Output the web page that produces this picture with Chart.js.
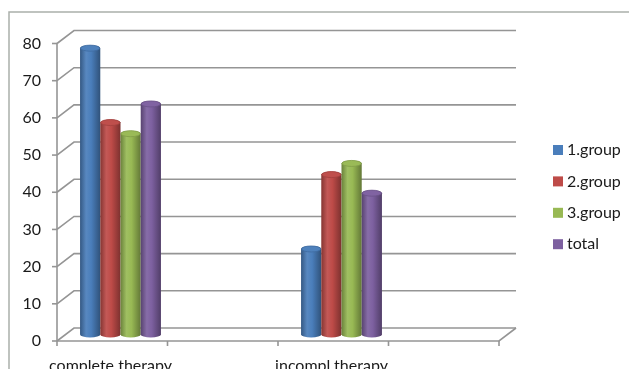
<!DOCTYPE html>
<html>
<head>
<meta charset="utf-8">
<script src="https://cdn.jsdelivr.net/npm/chart.js@4/dist/chart.umd.min.js"></script>
<style>
  html, body { margin: 0; padding: 0; background: #fff; }
  #wrap { width: 629px; height: 369px; position: relative; }
</style>
</head>
<body>
<div id="wrap"><canvas id="chart" width="629" height="369"></canvas></div>
<script>
// Data
const categories = ['complete therapy', 'incompl.therapy'];
const seriesNames = ['1.group', '2.group', '3.group', 'total'];
const group1 = [77, 23];
const group2 = [57, 43];
const group3 = [54, 46];
const total = [62, 38];
const yTicks = [0, 10, 20, 30, 40, 50, 60, 70, 80];

const colors = ['#4a7ebb', '#be4b48', '#98b954', '#7d60a0'];
const FONT = '16px Lato, "Open Sans", sans-serif';

// Box geometry (front/back planes around the bar plane)
const box = { frontLeft: 57, frontRight: 499, dx: 17, dy: 6.5 };
const gridColor = '#959595';

function mix(hex, amt) {
  const n = parseInt(hex.slice(1), 16);
  let r = n >> 16, g = (n >> 8) & 255, b = n & 255;
  const t = amt < 0 ? 0 : 255, p = Math.abs(amt);
  r = Math.round(r + (t - r) * p);
  g = Math.round(g + (t - g) * p);
  b = Math.round(b + (t - b) * p);
  return `rgb(${r},${g},${b})`;
}

function drawCylinder(ctx, x, top, base, w, color) {
  const rx = w / 2, ry = 3, left = x - rx;
  const grad = ctx.createLinearGradient(left, 0, left + w, 0);
  grad.addColorStop(0, mix(color, -0.3));
  grad.addColorStop(0.3, mix(color, 0.08));
  grad.addColorStop(0.55, color);
  grad.addColorStop(1, mix(color, -0.35));
  ctx.fillStyle = grad;
  ctx.beginPath();
  ctx.moveTo(left, top);
  ctx.lineTo(left, base);
  ctx.ellipse(x, base, rx, ry, 0, Math.PI, 0, true);
  ctx.lineTo(x + rx, top);
  ctx.ellipse(x, top, rx, ry, 0, 0, Math.PI, true);
  ctx.closePath();
  ctx.fill();

  // lid
  ctx.beginPath();
  ctx.ellipse(x, top, rx - 0.5, ry, 0, 0, Math.PI * 2);
  ctx.fillStyle = mix(color, 0.02);
  ctx.fill();
  ctx.strokeStyle = mix(color, -0.15);
  ctx.lineWidth = 0.8;
  ctx.stroke();
}

const boxPlugin = {
  id: 'box3d',
  beforeDatasetsDraw(chart) {
    const ctx = chart.ctx;
    const y = chart.scales.y;
    const { frontLeft, frontRight, dx, dy } = box;
    ctx.save();

    // outer frame
    ctx.strokeStyle = '#aab0aa';
    ctx.lineWidth = 1.5;
    ctx.beginPath();
    ctx.moveTo(9, 369);
    ctx.lineTo(9, 12);
    ctx.lineTo(629, 12);
    ctx.stroke();

    ctx.strokeStyle = gridColor;
    ctx.lineWidth = 1.6;
    // side wall diagonals + back wall gridlines
    yTicks.forEach(v => {
      const py = y.getPixelForValue(v);
      ctx.beginPath();
      ctx.moveTo(frontLeft, py + dy);
      ctx.lineTo(frontLeft + dx, py - dy);
      ctx.lineTo(frontRight + dx, py - dy);
      ctx.stroke();
      // y tick mark
      ctx.beginPath();
      ctx.moveTo(frontLeft - 5, py + dy);
      ctx.lineTo(frontLeft, py + dy);
      ctx.stroke();
    });

    // floor front edge + right edge
    const p0 = y.getPixelForValue(0);
    ctx.beginPath();
    ctx.moveTo(frontLeft, p0 + dy);
    ctx.lineTo(frontRight, p0 + dy);
    ctx.lineTo(frontRight + dx, p0 - dy);
    ctx.stroke();

    // y axis line
    const pTop = y.getPixelForValue(yTicks[yTicks.length - 1]);
    ctx.beginPath();
    ctx.moveTo(frontLeft, pTop + dy);
    ctx.lineTo(frontLeft, p0 + dy + 5);
    ctx.stroke();

    // x tick marks
    const step = (frontRight - frontLeft) / (categories.length * 2);
    for (let i = 1; i <= categories.length * 2; i++) {
      const tx = frontLeft + step * i;
      ctx.beginPath();
      ctx.moveTo(tx, p0 + dy);
      ctx.lineTo(tx, p0 + dy + 5);
      ctx.stroke();
    }

    // y tick labels
    ctx.fillStyle = '#1a1a1a';
    ctx.font = FONT;
    ctx.textAlign = 'right';
    ctx.textBaseline = 'middle';
    yTicks.forEach(v => {
      ctx.fillText(String(v), 41, y.getPixelForValue(v) + dy);
    });

    // category labels
    const x = chart.scales.x;
    ctx.textAlign = 'center';
    ctx.textBaseline = 'alphabetic';
    categories.forEach((c, i) => {
      ctx.fillText(c, x.getPixelForValue(i) - 10, 371);
    });

    // legend
    ctx.textAlign = 'left';
    ctx.textBaseline = 'middle';
    chart.data.datasets.forEach((ds, i) => {
      const ly = 150 + i * 31.4;
      ctx.fillStyle = colors[i];
      ctx.fillRect(553, ly - 5, 10, 10);
      ctx.fillStyle = '#1a1a1a';
      ctx.fillText(ds.label, 567, ly);
    });

    ctx.restore();
  },
  beforeDatasetDraw() {
    return false;
  },
  afterDatasetsDraw(chart) {
    const ctx = chart.ctx;
    ctx.save();
    const n = chart.data.labels.length;
    for (let i = 0; i < n; i++) {
      chart.data.datasets.forEach((ds, d) => {
        const bar = chart.getDatasetMeta(d).data[i];
        drawCylinder(ctx, bar.x, bar.y, bar.base, bar.width, colors[d]);
      });
    }
    ctx.restore();
  }
};

new Chart(document.getElementById('chart'), {
  type: 'bar',
  data: {
    labels: categories,
    datasets: [group1, group2, group3, total].map((vals, i) => ({
      label: seriesNames[i],
      data: vals,
      backgroundColor: colors[i],
      categoryPercentage: 0.366,
      barPercentage: 1.0
    }))
  },
  options: {
    responsive: false,
    animation: false,
    devicePixelRatio: 1,
    layout: { padding: { left: 10, right: 177, top: 37, bottom: 34.5 } },
    plugins: { legend: { display: false }, tooltip: { enabled: false } },
    scales: {
      x: { display: false },
      y: { display: false, min: 0, max: 80, ticks: { stepSize: 10 } }
    }
  },
  plugins: [boxPlugin]
});
</script>
</body>
</html>
